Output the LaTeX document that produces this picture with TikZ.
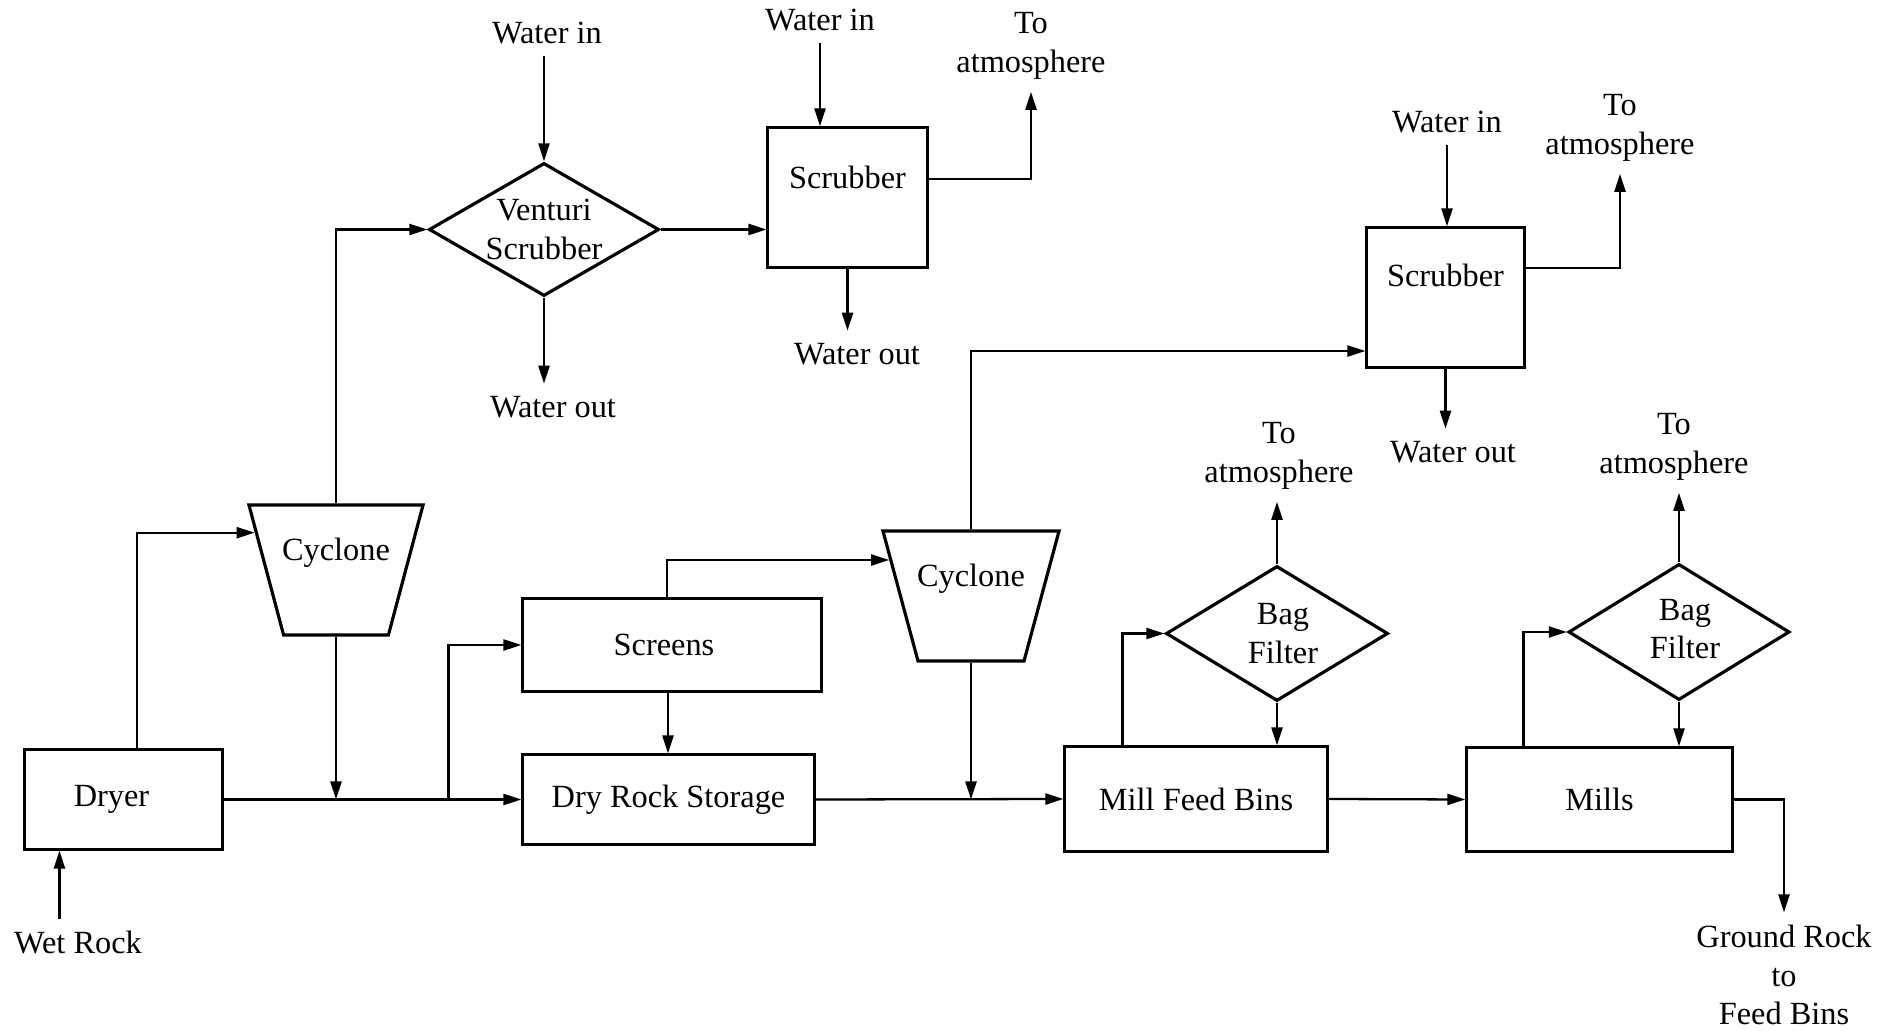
\documentclass[tikz,border=0pt]{standalone}
\usepackage{fontspec}
\setmainfont{Liberation Serif}
\usetikzlibrary{shapes.geometric,arrows.meta,calc}

\begin{document}
\begin{tikzpicture}[x=0.01cm, y=-0.01cm,
  font=\fontsize{9.2}{11}\selectfont,
  unit/.style={draw, line width=0.85pt, rectangle, inner sep=0pt},
  filter/.style={draw, line width=0.9pt, diamond, inner sep=0pt},
  cyclone/.style={draw, line width=0.9pt, trapezium, trapezium angle=71.7,
    shape border rotate=180, trapezium stretches=true,
    minimum width=1.74cm, minimum height=1.3cm, inner sep=1pt,
    label={[yshift=0.17cm]center:Cyclone}},
  flow/.style={line width=0.65pt, -{Triangle[length=1.8mm, width=1.1mm]}},
  stream/.style={align=center}]

\useasboundingbox (0,0) rectangle (1893,1031);

% process units
\node[unit, minimum width=1.97cm, minimum height=0.99cm,
  label={[xshift=-0.12cm]center:Dryer}] (dryer) at (123.5,799.5) {};
\node[unit, minimum width=2.98cm, minimum height=0.92cm,
  label={[xshift=-0.08cm]center:Screens}] (screens) at (672,645) {};
\node[unit, minimum width=2.91cm, minimum height=0.89cm] (drs) at (668.5,799.5) {Dry Rock Storage};
\node[unit, minimum width=2.62cm, minimum height=1.04cm] (mfb) at (1196,799) {Mill Feed Bins};
\node[unit, minimum width=2.65cm, minimum height=1.03cm] (mills) at (1599.5,799.5) {Mills};
\node[unit, minimum width=1.59cm, minimum height=1.39cm,
  label={[yshift=0.2cm]center:Scrubber}] (scr1) at (847.5,197.5) {};
\node[unit, minimum width=1.57cm, minimum height=1.39cm,
  label={[yshift=0.22cm]center:Scrubber}] (scr2) at (1445.5,297.5) {};
\node[cyclone] (cyc1) at (336,570) {};
\node[cyclone, minimum width=1.76cm] (cyc2) at (971,596) {};
\node[filter, minimum width=2.3cm, minimum height=1.33cm,
  label={[align=center]center:Venturi\\Scrubber}] (venturi) at (544,229.5) {};
\node[filter, minimum width=2.22cm, minimum height=1.35cm,
  label={[align=center, xshift=0.06cm]center:Bag\\Filter}] (bag1) at (1277,633.5) {};
\node[filter, minimum width=2.21cm, minimum height=1.36cm,
  label={[align=center, xshift=0.06cm, yshift=0.03cm]center:Bag\\Filter}] (bag2) at (1679,632) {};

% streams in and out
\node[stream] (wet) at (78,943) {Wet Rock};
\node[stream] (wi1) at (547,33) {Water in};
\node[stream] (wi2) at (820,20) {Water in};
\node[stream] (wi3) at (1447,122) {Water in};
\node[stream] (wo1) at (553,407) {Water out};
\node[stream] (wo2) at (857,354) {Water out};
\node[stream] (wo3) at (1453,452) {Water out};
\node[stream] (atm1) at (1031,46) {To\\atmosphere};
\node[stream] (atm2) at (1620,128) {To\\atmosphere};
\node[stream] (atm3) at (1279,456) {To\\atmosphere};
\node[stream] (atm4) at (1674,447) {To\\atmosphere};
\node[stream] (ground) at (1784,975) {Ground Rock\\to\\Feed Bins};

\coordinate (wetin) at ($(dryer.south west)!0.18!(dryer.south east)$);
\coordinate (split) at ($(dryer.east)!0.755!(drs.west)$);
\coordinate (cyc1in) at ($(cyc1.bottom right corner)!0.22!(cyc1.top right corner)$);
\coordinate (cyc2in) at ($(cyc2.bottom right corner)!0.23!(cyc2.top right corner)$);

% main line
\draw[flow] (wet.north -| wetin) -- (wetin);
\draw[flow] (dryer.east) -- (drs.west);
\draw[flow] ([xshift=0.135cm]dryer.north) |- (cyc1in);
\draw[flow] (cyc1.south) -- (cyc1.south |- dryer.east);
\draw[flow] (split) |- (screens.west);
\draw[flow] ([xshift=-0.04cm]screens.south) -- ([xshift=-0.04cm]screens.south |- drs.north);
\draw[flow] ([xshift=-0.05cm]screens.north) |- (cyc2in);
\draw[flow] (cyc2.south) -- (cyc2.south |- drs.east);
\draw[flow] (drs.east) -- (mfb.west);
\draw[flow] (mfb.east) -- (mills.west);
\draw[flow] (mills.east) -| (ground.north);

% gas cleaning
\draw[flow] (cyc1.north) |- (venturi.west);
\draw[flow] (venturi.north |- wi1.south) -- (venturi.north);
\draw[flow] (venturi.south) -- (venturi.south |- wo1.north);
\draw[flow] (venturi.east) -- (venturi.east -| scr1.west);
\draw[flow] (wi2.south) -- (wi2.south |- scr1.north);
\draw[flow] (scr1.south) -- (scr1.south |- wo2.north);
\draw[flow] ([yshift=0.185cm]scr1.east) -| (atm1.south);
\draw[flow] (cyc2.north) |- ([yshift=-0.535cm]scr2.west);
\draw[flow] (wi3.south) -- (wi3.south |- scr2.north);
\draw[flow] (scr2.south) -- (scr2.south |- wo3.north);
\draw[flow] ([yshift=0.295cm]scr2.east) -| (atm2.south);

% bag filters
\draw[flow] ([xshift=0.59cm]mfb.north west) |- (bag1.west);
\draw[flow] (bag1.south) -- (bag1.south |- mfb.north);
\draw[flow] (bag1.north) -- (bag1.north |- atm3.south);
\draw[flow] ([xshift=0.58cm]mills.north west) |- (bag2.west);
\draw[flow] (bag2.south) -- (bag2.south |- mills.north);
\draw[flow] (bag2.north) -- (bag2.north |- atm4.south);

\end{tikzpicture}
\end{document}
